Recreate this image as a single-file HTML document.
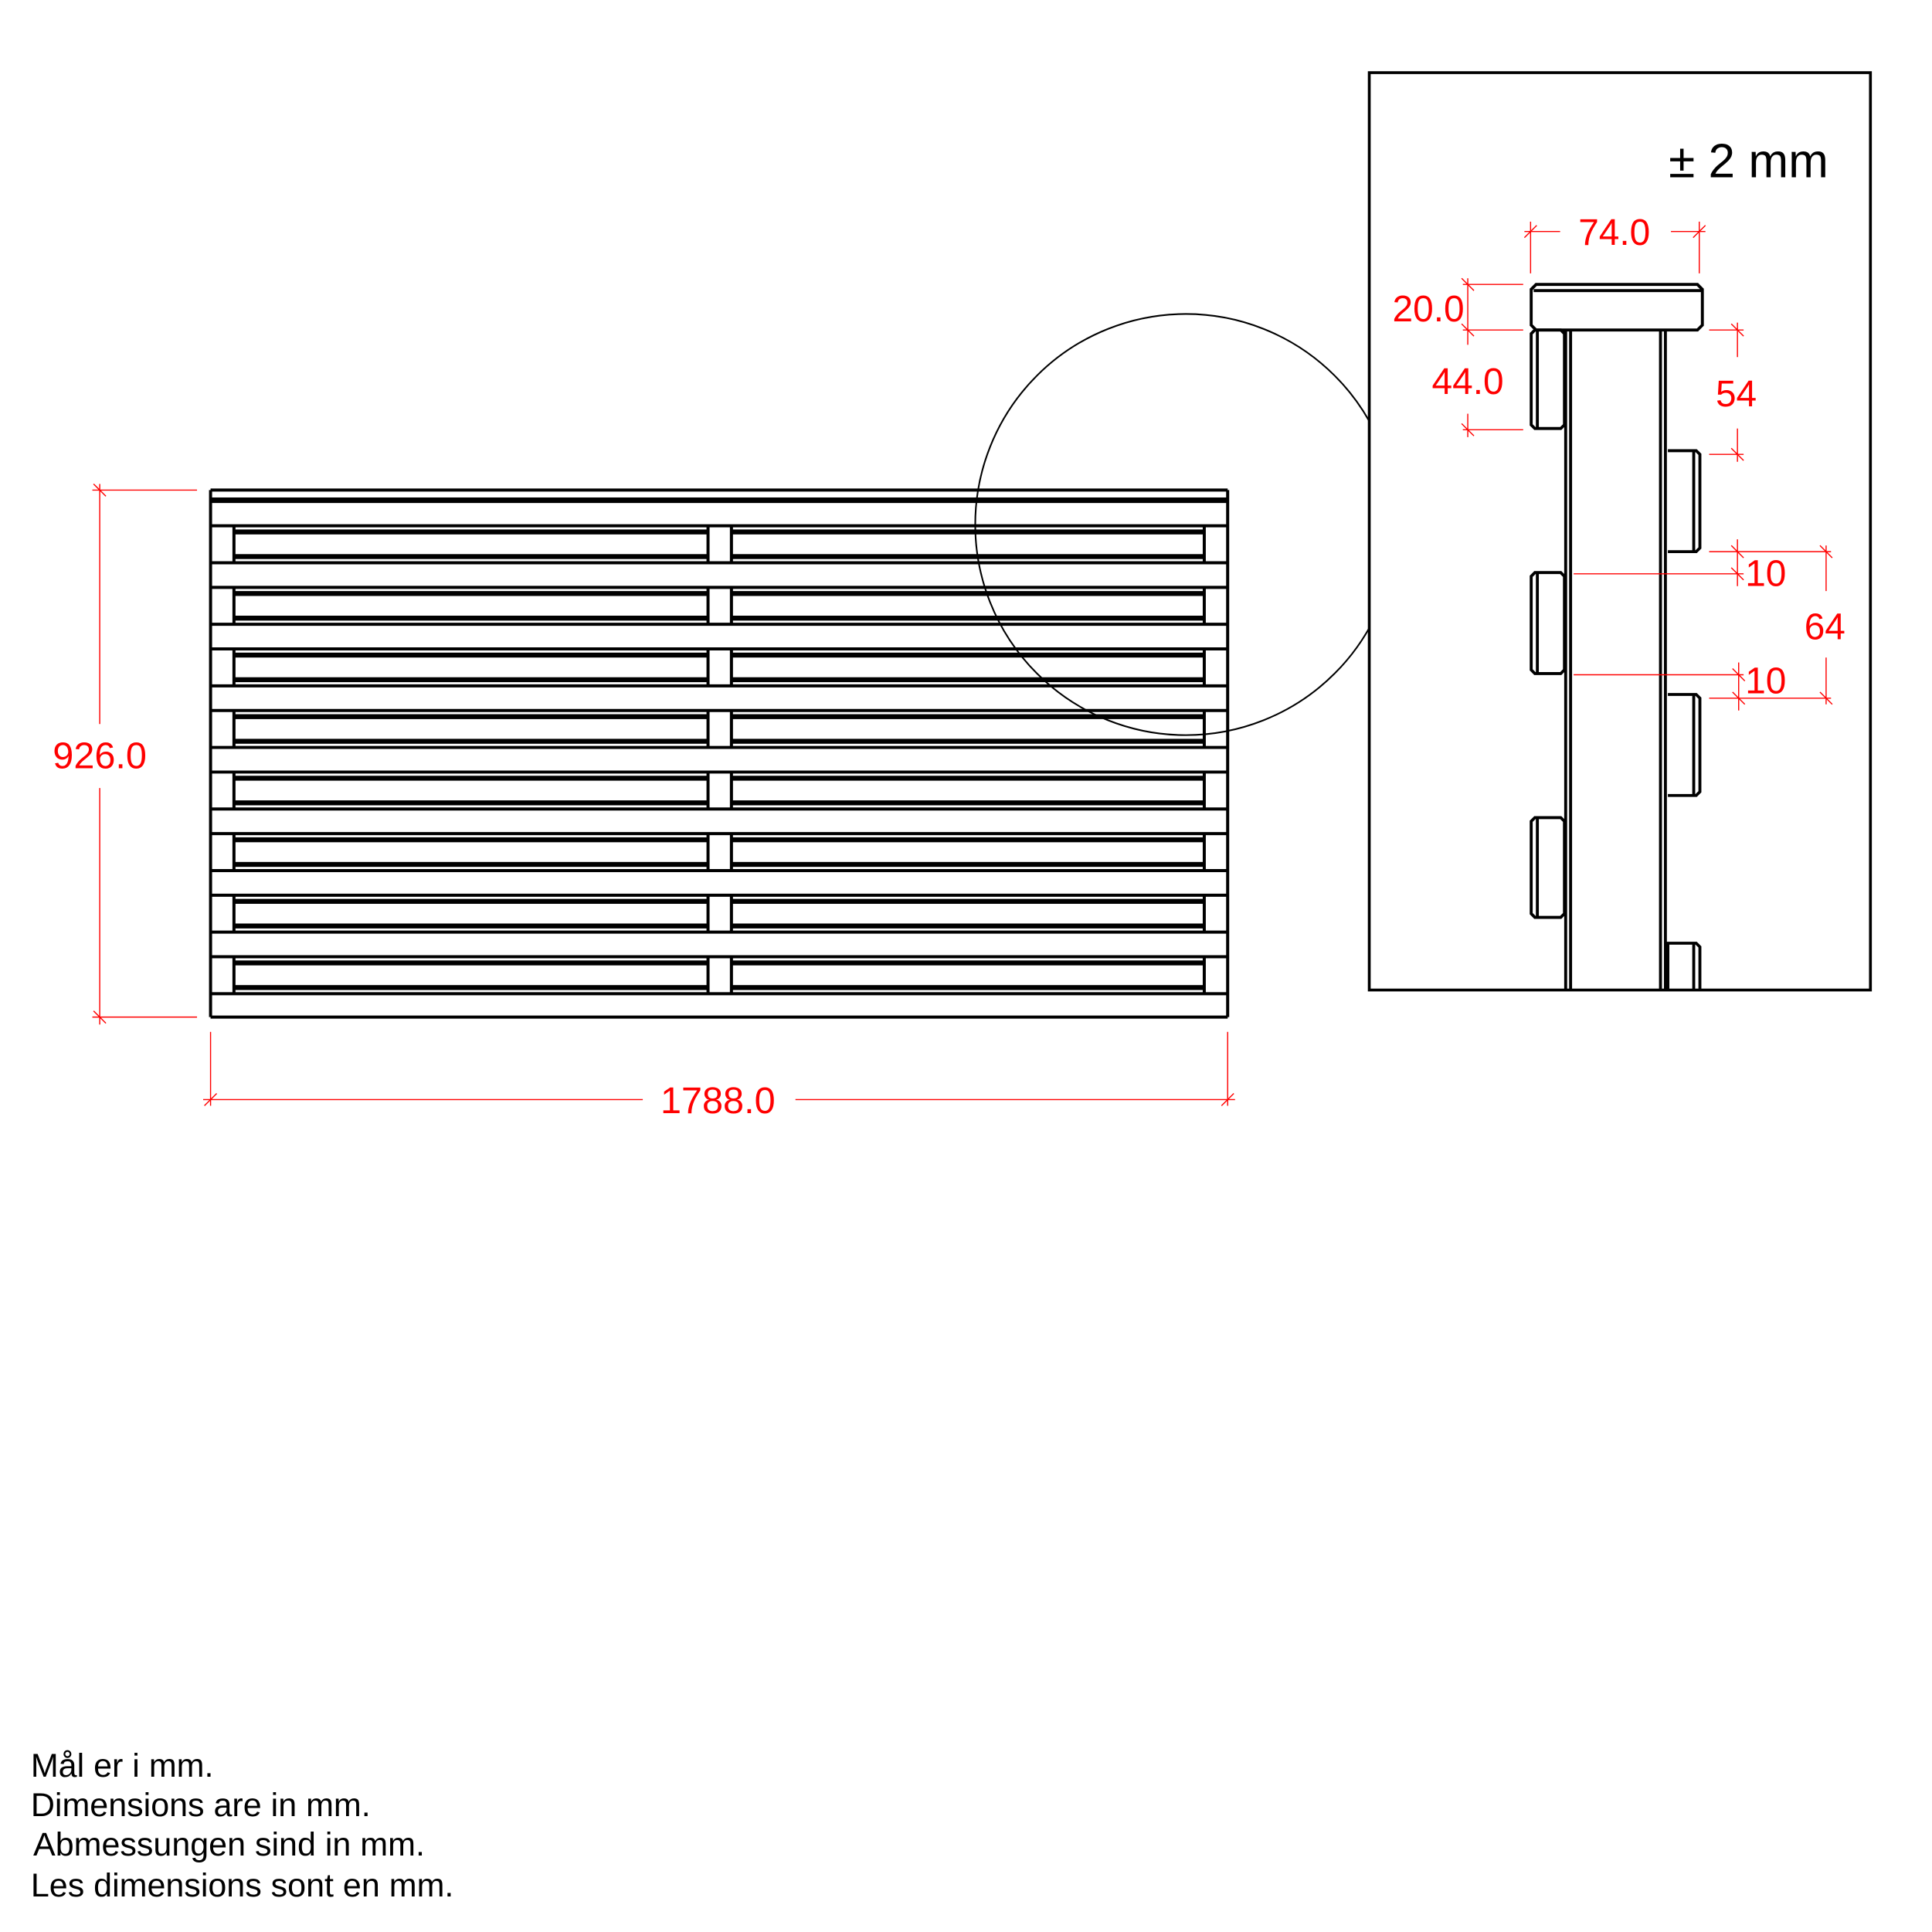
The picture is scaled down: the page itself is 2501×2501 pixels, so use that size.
<!DOCTYPE html>
<html><head><meta charset="utf-8"><style>
html,body{margin:0;padding:0;background:#fff;}
svg{display:block;}
text{font-family:"Liberation Sans",Arial,sans-serif;}
</style></head><body>
<svg xmlns="http://www.w3.org/2000/svg" width="2501" height="2501" viewBox="0 0 1569 1569">
<rect width="1569" height="1569" fill="#fff"/>
<circle cx="963" cy="426" r="171" fill="none" stroke="#000" stroke-width="1.3"/>
<g stroke="#000" stroke-width="2.5" fill="none">
<line x1="171" y1="398" x2="997" y2="398"/>
<rect x="171" y="404" width="826" height="4.5" fill="#000" stroke="none"/>
<line x1="171" y1="398" x2="171" y2="826"/>
<line x1="997" y1="398" x2="997" y2="826"/>
<line x1="171" y1="826" x2="997" y2="826"/>
</g>
<g stroke="#000" stroke-width="2.5" fill="none">
<g id="r0">
<line x1="171" y1="427" x2="997" y2="427"/>
<line x1="171" y1="457" x2="997" y2="457"/>
<line x1="190" y1="427" x2="190" y2="457"/>
<line x1="575" y1="427" x2="575" y2="457"/>
<line x1="594" y1="427" x2="594" y2="457"/>
<line x1="978" y1="427" x2="978" y2="457"/>
<rect x="190" y="430" width="385" height="4" fill="#000" stroke="none"/>
<rect x="190" y="450" width="385" height="4" fill="#000" stroke="none"/>
<rect x="594" y="430" width="384" height="4" fill="#000" stroke="none"/>
<rect x="594" y="450" width="384" height="4" fill="#000" stroke="none"/>
</g>
<use href="#r0" y="50"/><use href="#r0" y="100"/><use href="#r0" y="150"/>
<use href="#r0" y="200"/><use href="#r0" y="250"/><use href="#r0" y="300"/><use href="#r0" y="350"/>
</g>
<g stroke="#f00" stroke-width="0.9" fill="none">
<line x1="75" y1="398" x2="160" y2="398"/>
<line x1="75" y1="826" x2="160" y2="826"/>
<line x1="81" y1="393" x2="81" y2="588"/>
<line x1="81" y1="640" x2="81" y2="832"/>
<line x1="76" y1="393" x2="86" y2="403"/>
<line x1="76" y1="821" x2="86" y2="831"/>
<line x1="171" y1="838" x2="171" y2="898"/>
<line x1="997" y1="838" x2="997" y2="898"/>
<line x1="165" y1="893" x2="522" y2="893"/>
<line x1="646" y1="893" x2="1003" y2="893"/>
<line x1="166" y1="898" x2="176" y2="888"/>
<line x1="992" y1="898" x2="1002" y2="888"/>
</g>
<text x="81" y="624" font-size="30.5" fill="#f00" text-anchor="middle">926.0</text>
<text x="583" y="904" font-size="30.5" fill="#f00" text-anchor="middle">1788.0</text>
<rect x="1112" y="59" width="407" height="745" fill="#fff" stroke="#000" stroke-width="2.3"/>
<text x="1420" y="144" font-size="39" fill="#000" text-anchor="middle">± 2 mm</text>
<g stroke="#000" stroke-width="2.4" fill="none" transform="translate(3.5,0)">
<path d="M1244,231 H1375 L1379,235 V264 L1375,268 H1244 L1240,264 V235 Z"/>
<line x1="1242" y1="236" x2="1378" y2="236"/>
<line x1="1268" y1="268" x2="1268" y2="804"/>
<line x1="1272" y1="268" x2="1272" y2="804"/>
<line x1="1345" y1="268" x2="1345" y2="804"/>
<line x1="1349" y1="268" x2="1349" y2="804"/>
<path d="M1243,268 H1264 L1267,271 V345 L1264,348 H1243 L1240,345 V271 Z"/><line x1="1245" y1="269" x2="1245" y2="347"/>
<path d="M1243,465 H1264 L1267,468 V544 L1264,547 H1243 L1240,544 V468 Z"/><line x1="1245" y1="466" x2="1245" y2="546"/>
<path d="M1243,664 H1264 L1267,667 V742 L1264,745 H1243 L1240,742 V667 Z"/><line x1="1245" y1="665" x2="1245" y2="744"/>
<path d="M1351,366 H1374 L1377,369 V445 L1374,448 H1351"/><line x1="1372" y1="367" x2="1372" y2="447"/>
<path d="M1351,564 H1374 L1377,567 V643 L1374,646 H1351"/><line x1="1372" y1="565" x2="1372" y2="645"/>
<path d="M1351,804 V766 H1374 L1377,769 V804"/><line x1="1372" y1="767" x2="1372" y2="804"/>
</g>
<g stroke="#f00" stroke-width="0.9" fill="none">
<line x1="1243" y1="180" x2="1243" y2="222"/>
<line x1="1380" y1="180" x2="1380" y2="222"/>
<line x1="1238" y1="188" x2="1267" y2="188"/>
<line x1="1357" y1="188" x2="1385" y2="188"/>
<line x1="1238" y1="193" x2="1248" y2="183"/>
<line x1="1375" y1="193" x2="1385" y2="183"/>
<line x1="1188" y1="231" x2="1237" y2="231"/>
<line x1="1188" y1="268" x2="1237" y2="268"/>
<line x1="1188" y1="349" x2="1237" y2="349"/>
<line x1="1192" y1="226" x2="1192" y2="280"/>
<line x1="1192" y1="336" x2="1192" y2="355"/>
<line x1="1187" y1="226" x2="1197" y2="236"/>
<line x1="1187" y1="263" x2="1197" y2="273"/>
<line x1="1187" y1="344" x2="1197" y2="354"/>
<line x1="1388" y1="268" x2="1416" y2="268"/>
<line x1="1388" y1="369" x2="1416" y2="369"/>
<line x1="1411" y1="262" x2="1411" y2="290"/>
<line x1="1411" y1="348" x2="1411" y2="375"/>
<line x1="1406" y1="263" x2="1416" y2="273"/>
<line x1="1406" y1="364" x2="1416" y2="374"/>
<line x1="1388" y1="448" x2="1487" y2="448"/>
<line x1="1278" y1="466" x2="1416" y2="466"/>
<line x1="1278" y1="548" x2="1416" y2="548"/>
<line x1="1388" y1="567" x2="1487" y2="567"/>
<line x1="1411" y1="438" x2="1411" y2="476"/>
<line x1="1412" y1="538" x2="1412" y2="577"/>
<line x1="1483" y1="443" x2="1483" y2="480"/>
<line x1="1483" y1="534" x2="1483" y2="572"/>
<line x1="1406" y1="443" x2="1416" y2="453"/>
<line x1="1406" y1="461" x2="1416" y2="471"/>
<line x1="1407" y1="543" x2="1417" y2="553"/>
<line x1="1407" y1="562" x2="1417" y2="572"/>
<line x1="1478" y1="443" x2="1488" y2="453"/>
<line x1="1478" y1="562" x2="1488" y2="572"/>
</g>
<g fill="#f00" font-size="30">
<text x="1311" y="199" text-anchor="middle">74.0</text>
<text x="1160" y="261" text-anchor="middle">20.0</text>
<text x="1192" y="320" text-anchor="middle">44.0</text>
<text x="1410" y="330" text-anchor="middle">54</text>
<text x="1434" y="476" text-anchor="middle">10</text>
<text x="1482" y="519" text-anchor="middle">64</text>
<text x="1434" y="563" text-anchor="middle">10</text>
</g>
<g fill="#000" font-size="27">
<text x="25" y="1443">Mål er i mm.</text>
<text x="25" y="1475">Dimensions are in mm.</text>
<text x="27" y="1507">Abmessungen sind in mm.</text>
<text x="25" y="1540">Les dimensions sont en mm.</text>
</g>
</svg>
</body></html>
